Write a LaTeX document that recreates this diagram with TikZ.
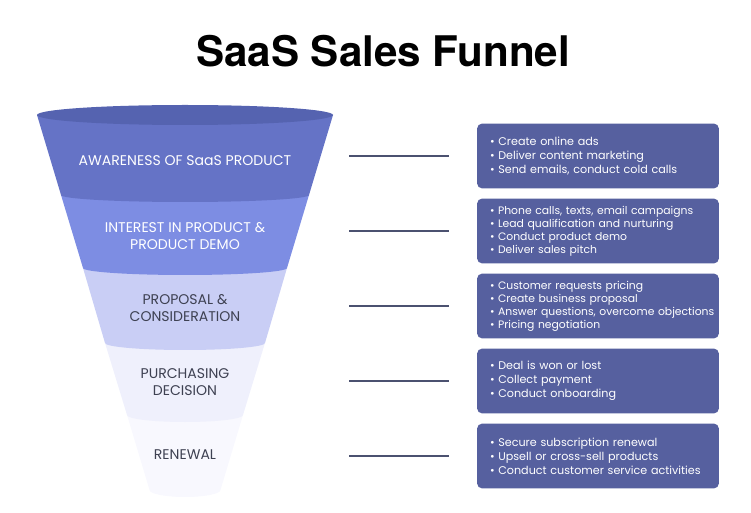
\documentclass[tikz,border=0pt]{standalone}
\usepackage{fontspec}
\setmainfont{Poppins}
\newfontfamily\headfont{TeX Gyre Heros}
\newcommand\nohyph{\hyphenpenalty=10000\relax\exhyphenpenalty=10000\relax\hbadness=10000\relax\hfuzz=50pt\relax}
\definecolor{rimblue}{HTML}{5563B0}
\definecolor{bandA}{HTML}{6573C6}
\definecolor{bandB}{HTML}{7D8DE3}
\definecolor{bandC}{HTML}{C9CEF5}
\definecolor{bandD}{HTML}{EFF0FC}
\definecolor{bandE}{HTML}{F8F8FE}
\definecolor{boxblue}{HTML}{56609F}
\definecolor{linkgray}{HTML}{4B5170}
\definecolor{labelgray}{HTML}{3E4152}

\begin{document}
\begin{tikzpicture}[x=0.02cm,y=-0.02cm, >=stealth]
\tikzset{
  stagetext/.style={align=center, font=\fontsize{8}{9.7}\selectfont, inner sep=0pt},
  infobox/.style={fill=boxblue, rounded corners=3pt, minimum width=4.84cm, minimum height=1.3cm,
    text width=4.32cm, inner xsep=0.26cm, align=left, text=white,
    font=\fontsize{6.35}{7.97}\selectfont\nohyph},
  tightbox/.style={font=\fontsize{6.15}{7.4}\selectfont\nohyph},
  link/.style={draw=linkgray, line width=1.3pt}
}
\useasboundingbox (0,0) rectangle (751,513);

% title
\node (title) at (383,51) {\headfont\bfseries\fontsize{24}{28}\selectfont SaaS Sales Funnel};

% funnel bands, bottom first
\fill[bandE] (127,415) -- (149.5,490) arc[start angle=180,end angle=0,x radius=35.5,y radius=7] -- (243,415) -- cycle;
\fill[bandD] (105,343) -- (127,415) arc[start angle=180,end angle=0,x radius=58,y radius=7] -- (265,343) -- cycle;
\fill[bandC] (83,268) -- (105,343) arc[start angle=180,end angle=0,x radius=80,y radius=7] -- (287,268) -- cycle;
\fill[bandB] (61,195) -- (83,268) arc[start angle=180,end angle=0,x radius=102,y radius=7] -- (309,195) -- cycle;
\fill[bandA] (37,115) -- (61,195) arc[start angle=180,end angle=0,x radius=124,y radius=7] -- (333,115) -- cycle;
\fill[rimblue] (185,115) ellipse[x radius=148,y radius=10];

% stage labels
\node[stagetext, text=white] (stage1) at (185,161) {AWARENESS OF SaaS PRODUCT};
\node[stagetext, text=white] (stage2) at (185,236) {INTEREST IN PRODUCT \&\\PRODUCT DEMO};
\node[stagetext, text=labelgray] (stage3) at (185,308) {PROPOSAL \&\\CONSIDERATION};
\node[stagetext, text=labelgray] (stage4) at (185,382) {PURCHASING\\DECISION};
\node[stagetext, text=labelgray] (stage5) at (185,455) {RENEWAL};

% boxes
\node[infobox] (box1) at (598,156) {• Create online ads\\• Deliver content marketing\\• Send emails, conduct cold calls};
\node[infobox, tightbox] (box2) at (598,231) {• Phone calls, texts, email campaigns\\• Lead qualification and nurturing\\• Conduct product demo\\• Deliver sales pitch};
\node[infobox, tightbox] (box3) at (598,306) {• Customer requests pricing\\• Create business proposal\\•~Answer~questions,~overcome~objections\\• Pricing negotiation};
\node[infobox] (box4) at (598,381) {• Deal is won or lost\\• Collect payment\\• Conduct onboarding};
\node[infobox] (box5) at (598,456) {• Secure subscription renewal\\• Upsell or cross-sell products\\• Conduct customer service activities};

% links
\foreach \i in {1,...,5}{
  \coordinate (ls\i) at (box\i.west -| 349,0);
  \draw[link, shorten >=0.56cm] (ls\i) -- (box\i.west);
}
\end{tikzpicture}
\end{document}
